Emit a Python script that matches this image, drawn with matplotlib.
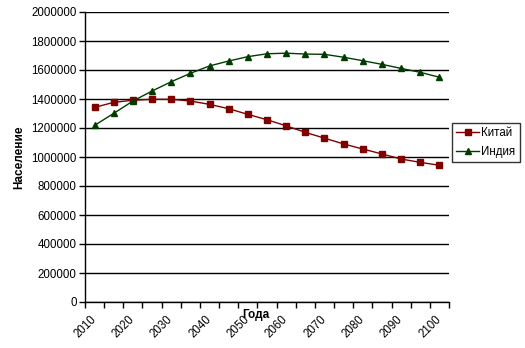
import matplotlib
matplotlib.use("Agg")
import matplotlib.pyplot as plt
from matplotlib.ticker import FixedLocator, NullFormatter
from matplotlib.transforms import ScaledTranslation

plt.rcParams['font.family'] = ['Liberation Sans', 'DejaVu Sans']

years = list(range(2010, 2101, 5))
china = [1342000, 1377000, 1391000, 1398000, 1398000, 1386000, 1363000, 1333000,
         1294000, 1257000, 1215000, 1170000, 1130000, 1090000, 1055000, 1021000,
         986000, 963000, 943000]
india = [1218000, 1301000, 1386000, 1455000, 1519000, 1577000, 1628000, 1662000,
         1692000, 1712000, 1716000, 1710000, 1708000, 1688000, 1664000, 1639000,
         1611000, 1584000, 1550000]
year_labels = [str(y) for y in years[::2]]

fig = plt.figure(figsize=(5.25, 3.48), dpi=100)
ax = fig.add_axes([85 / 525, 1 - 302 / 348, 364 / 525, 290 / 348])

x = list(range(len(years)))
ax.plot(x, china, color='#800000', lw=1.0, marker='s', ms=3.8,
        mec='#800000', mfc='#800000', label='Китай', zorder=3)
ax.plot(x, india, color='#003c00', lw=1.0, marker='^', ms=4.4,
        mec='#003c00', mfc='#003c00', label='Индия', zorder=3)

ax.set_xlim(-0.5, len(years) - 0.5)
ax.set_ylim(0, 2000000)
ax.set_yticks(range(0, 2000001, 200000))
ax.set_yticklabels([str(v) for v in range(0, 2000001, 200000)], fontsize=8.3)
ax.yaxis.grid(True, color='black', lw=1.0)
ax.set_axisbelow(True)

ax.xaxis.set_major_locator(FixedLocator(x[::2]))
ax.set_xticklabels(year_labels, rotation=45, ha='right', fontsize=8.3)
ax.xaxis.set_minor_locator(FixedLocator([i - 0.5 for i in range(len(years) + 1)]))
ax.xaxis.set_minor_formatter(NullFormatter())
ax.tick_params(axis='x', which='major', length=0, pad=8)
ax.tick_params(axis='x', which='minor', length=4, width=1, color='black')
ax.tick_params(axis='y', length=4, width=1, color='black', pad=2)
shift = ScaledTranslation(4 / 100, 0, fig.dpi_scale_trans)
for lbl in ax.get_xticklabels():
    lbl.set_transform(lbl.get_transform() + shift)

for s in ['top', 'right']:
    ax.spines[s].set_visible(False)
for s in ['left', 'bottom']:
    ax.spines[s].set_color('black')
    ax.spines[s].set_linewidth(1.0)

ax.set_ylabel('Население', fontsize=8.5, fontweight='bold', labelpad=4)
ax.set_xlabel('Года', fontsize=8.5, fontweight='bold')
ax.xaxis.set_label_coords(0.47, -0.025)

leg = fig.legend(loc='upper left', bbox_to_anchor=(452 / 525, 1 - 123 / 348),
                 fontsize=8.3, frameon=True, fancybox=False, edgecolor='black',
                 handlelength=2.0, handletextpad=0.2, borderpad=0.35,
                 labelspacing=0.6, borderaxespad=0)
leg.get_frame().set_linewidth(1.0)

fig.savefig('out.png', dpi=100)
